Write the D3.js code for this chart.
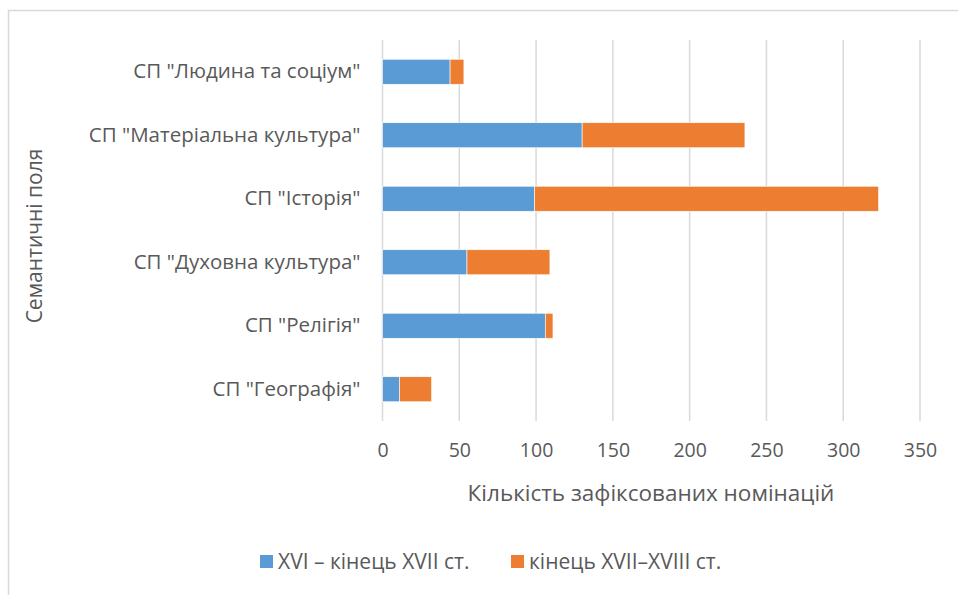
<!DOCTYPE html>
<html>
<head>
<meta charset="utf-8">
<script src="https://cdn.jsdelivr.net/npm/d3@7"></script>
<style>
  body { margin: 0; background: #fff; }
  text { font-family: "Open Sans", "Noto Sans", sans-serif; fill: #595959; }
</style>
</head>
<body>
<div id="chart"></div>
<script>
const categories = [
    "СП \"Людина та соціум\"",
    "СП \"Матеріальна культура\"",
    "СП \"Історія\"",
    "СП \"Духовна культура\"",
    "СП \"Релігія\"",
    "СП \"Географія\""
];
const seriesNames = ["XVI – кінець XVII ст.", "кінець XVII–XVIII ст."];
const early = [44, 130, 99, 55, 106, 11];
const late = [9, 106, 224, 54, 5, 21];
const xTicks = [0, 50, 100, 150, 200, 250, 300, 350];

const width = 958, height = 595;
const colors = ["#5b9bd5", "#ed7d31"];

const svg = d3.select("#chart").append("svg")
    .attr("width", width)
    .attr("height", height);

// chart area border
svg.append("rect")
    .attr("x", 8.5).attr("y", 10.5)
    .attr("width", 980).attr("height", 620)
    .attr("fill", "none")
    .attr("stroke", "#d9d9d9")
    .attr("stroke-width", 1.5);

const x = d3.scaleLinear().domain([0, 350]).range([382.5, 920]);
const y = d3.scaleBand().domain(categories).range([40, 421]).paddingInner(0.606).paddingOuter(0.303);

// gridlines
svg.append("g")
    .selectAll("line")
    .data(xTicks)
    .join("line")
    .attr("x1", d => x(d)).attr("x2", d => x(d))
    .attr("y1", 40).attr("y2", 421)
    .attr("stroke", "#d9d9d9")
    .attr("stroke-width", 1.5);

// stacked bars
const rows = categories.map((c, i) => ({ cat: c, a: early[i], b: late[i] }));
const stack = d3.stack().keys(["a", "b"])(rows);

svg.append("g")
    .selectAll("g")
    .data(stack)
    .join("g")
    .attr("fill", (d, i) => colors[i])
    .selectAll("rect")
    .data(d => d)
    .join("rect")
    .attr("x", d => x(d[0]))
    .attr("y", d => y(d.data.cat))
    .attr("width", d => x(d[1]) - x(d[0]))
    .attr("height", y.bandwidth())
    .attr("stroke", "#fff")
    .attr("stroke-width", 0.6);

// x axis labels
const xAxis = svg.append("g")
    .attr("transform", "translate(0,421)")
    .call(d3.axisBottom(x).tickValues(xTicks).tickSize(0).tickPadding(22));
xAxis.select(".domain").remove();
xAxis.selectAll("text")
    .attr("font-size", 19.5)
    .style("font-family", "\"Open Sans\", sans-serif")
    .attr("fill", "#595959");

// y axis labels
const yAxis = svg.append("g")
    .attr("transform", "translate(382.5,0)")
    .call(d3.axisLeft(y).tickSize(0).tickPadding(22));
yAxis.select(".domain").remove();
yAxis.selectAll("text")
    .attr("font-size", 20.5)
    .style("font-family", "\"Open Sans\", sans-serif")
    .attr("fill", "#595959");

// axis titles
svg.append("text")
    .attr("x", 651).attr("y", 501)
    .attr("text-anchor", "middle")
    .attr("font-size", 22.5)
    .text("Кількість зафіксованих номінацій");

svg.append("text")
    .attr("transform", "translate(42,236) rotate(-90)")
    .attr("text-anchor", "middle")
    .attr("font-size", 21)
    .text("Семантичні поля");

// legend
const legendX = [260, 511];
const legend = svg.append("g");
seriesNames.forEach((n, i) => {
    legend.append("rect")
        .attr("x", legendX[i]).attr("y", 555)
        .attr("width", 13).attr("height", 13)
        .attr("fill", colors[i]);
    legend.append("text")
        .attr("x", legendX[i] + 18).attr("y", 569)
        .attr("font-size", 21)
        .text(n);
});
</script>
</body>
</html>
